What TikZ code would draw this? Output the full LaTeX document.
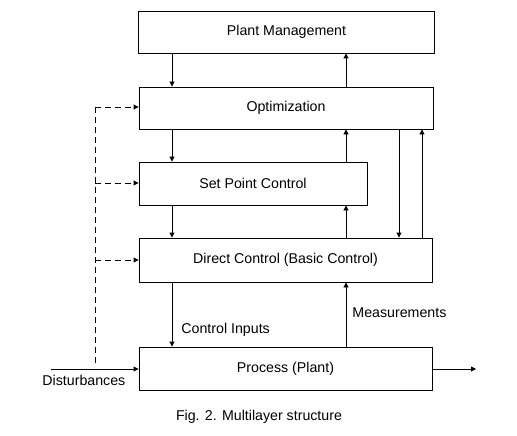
\documentclass[tikz,border=0pt]{standalone}
\usepackage{fontspec}
\setmainfont{Liberation Sans}
\usetikzlibrary{arrows.meta,calc}
\begin{document}
\begin{tikzpicture}[x=1pt,y=-1pt,line width=0.9pt,
  font=\fontsize{14.2}{16}\selectfont,
  blk/.style={draw,rectangle,inner sep=0pt},
  arr/.style={-{Triangle[length=5pt,width=5pt]}},
  darr/.style={arr,dashed,dash pattern=on 6pt off 4pt},
  lbl/.style={inner sep=0pt,anchor=west}]
\useasboundingbox (0,0) rectangle (517,436);
\node[blk,minimum width=296pt,minimum height=42pt] (pm) at (286.5,32) {Plant Management};
\node[blk,minimum width=294pt,minimum height=42pt] (opt) at (286,108) {Optimization};
\node[blk,minimum width=228pt,minimum height=43pt] (spc) at (253,183.5) {Set Point Control};
\node[blk,minimum width=293pt,minimum height=44pt] (dc) at (285.5,260) {Direct Control (Basic Control)};
\node[blk,minimum width=293pt,minimum height=43pt] (proc) at (285.5,368.5) {Process (Plant)};
% down arrows
\draw[arr] (172,0 |- pm.south) -- (172,0 |- opt.north);
\draw[arr] (172,0 |- opt.south) -- (172,0 |- spc.north);
\draw[arr] (172,0 |- spc.south) -- (172,0 |- dc.north);
\draw[arr] (172,0 |- dc.south) -- (172,0 |- proc.north);
% up arrows
\draw[arr] (346,0 |- opt.north) -- (346,0 |- pm.south);
\draw[arr] (346,0 |- spc.north) -- (346,0 |- opt.south);
\draw[arr] (346,0 |- dc.north) -- (346,0 |- spc.south);
\draw[arr] (346,0 |- proc.north) -- (346,0 |- dc.south);
% right side
\draw[arr] (399,0 |- opt.south) -- (399,0 |- dc.north);
\draw[arr] (422,0 |- dc.north) -- (422,0 |- opt.south);
% dashed disturbance lines
\coordinate (dtop) at (95,107);
\coordinate (dbot) at (95,363);
\draw[dashed,dash pattern=on 6pt off 4pt] (dbot) -- (dtop);
\draw[darr] (dtop) -- (opt.west |- dtop);
\draw[darr] (95,183) -- (spc.west |- 95,183);
\draw[darr] (95,260) -- (dc.west |- 95,260);
% disturbances in / output
\coordinate (din) at (51,369);
\coordinate (dout) at (476,369);
\draw[arr] (din) -- (proc.west |- din);
\draw[arr] (proc.east |- dout) -- (dout);
% labels
\node[lbl] (ci) at (181,330) {Control Inputs};
\node[lbl] (me) at (352,313) {Measurements};
\node[lbl] (di) at (42,380) {Disturbances};
\node (cap) at (259,417) {Fig. 2. Multilayer structure};
\end{tikzpicture}
\end{document}
